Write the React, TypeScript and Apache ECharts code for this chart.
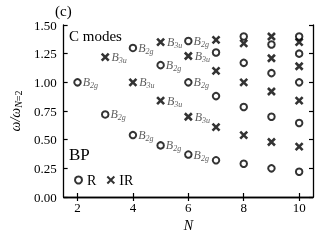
import React, { useEffect, useRef } from 'react';
import * as echarts from 'echarts';

const SERIF = '"Liberation Serif", "DejaVu Serif", serif';

// Raman-active (R) modes: N, omega/omega_{N=2}, symmetry tag
const R_N = [2, 3, 4, 4, 5, 5, 6, 6, 6, 7, 7, 7, 8, 8, 8, 8, 9, 9, 9, 9, 10, 10, 10, 10, 10];
const R_W = [1.0, 0.72, 1.3, 0.54, 1.15, 0.45, 1.36, 1.0, 0.37, 1.26, 0.88, 0.32, 1.4, 1.17, 0.785, 0.29, 1.33, 1.08, 0.7, 0.25, 1.4, 1.25, 1.0, 0.645, 0.22];
const R_TAG = ['2g', '2g', '2g', '2g', '2g', '2g', '2g', '2g', '2g', '', '', '', '', '', '', '', '', '', '', '', '', '', '', '', ''];

// IR-active modes
const IR_N = [3, 4, 5, 5, 6, 6, 7, 7, 7, 8, 8, 8, 9, 9, 9, 9, 10, 10, 10, 10];
const IR_W = [1.22, 1.0, 1.35, 0.84, 1.23, 0.7, 1.37, 1.1, 0.61, 1.34, 1.0, 0.54, 1.4, 1.21, 0.92, 0.48, 1.35, 1.14, 0.84, 0.44];
const IR_TAG = ['3u', '3u', '3u', '3u', '3u', '3u', '', '', '', '', '', '', '', '', '', '', '', '', '', ''];

const X_TICKS = [2, 4, 6, 8, 10];

const CROSS = 'path://M0,0L10,10M10,0L0,10';

function buildData(ns: number[], ws: number[], tags: string[]) {
  return ns.map((n, i) => ({
    value: [n, ws[i]],
    label: tags[i]
      ? { show: true, formatter: `{b|B}{s|${tags[i]}}` }
      : { show: false },
  }));
}

const labelRich = {
  b: { fontFamily: SERIF, fontStyle: 'italic', fontSize: 12, color: '#333', lineHeight: 15 },
  s: { fontFamily: SERIF, fontStyle: 'italic', fontSize: 8, color: '#333', lineHeight: 8, verticalAlign: 'bottom' },
};

export default function App() {
  const ref = useRef<HTMLDivElement>(null);
  useEffect(() => {
    const chart = echarts.init(ref.current!, null, { renderer: 'svg' });
    const axisLine = { show: true, lineStyle: { color: '#000', width: 1.3 } };
    const tickStyle = { inside: true, length: 4, lineStyle: { color: '#000', width: 1.2 } };
    chart.setOption({
      animation: false,
      grid: { left: 57, right: 7, top: 25, bottom: 43 },
      legend: {
        left: 69,
        top: 168,
        itemWidth: 7,
        itemHeight: 7,
        itemGap: 10,
        itemTextGap: 4,
        data: ['R', 'IR'],
        textStyle: { fontFamily: SERIF, fontSize: 14, color: '#000' },
      },
      xAxis: [
        {
          type: 'value',
          min: 1.5,
          max: 10.5,
          name: 'N',
          nameLocation: 'middle',
          nameGap: 17,
          nameTextStyle: { fontFamily: SERIF, fontStyle: 'italic', fontSize: 14, color: '#000' },
          axisLine,
          axisTick: { ...tickStyle, customValues: X_TICKS },
          axisLabel: { customValues: X_TICKS, fontFamily: SERIF, fontSize: 13, color: '#000', margin: 4 },
          splitLine: { show: false },
        },
        {
          type: 'value',
          position: 'top',
          min: 1.5,
          max: 10.5,
          axisLine,
          axisTick: { ...tickStyle, customValues: X_TICKS },
          axisLabel: { show: false, customValues: X_TICKS },
          splitLine: { show: false },
        },
      ],
      yAxis: [
        {
          type: 'value',
          min: 0,
          max: 1.5,
          interval: 0.25,
          name: '{w|ω/ω}{n|N}{s|=2}',
          nameLocation: 'middle',
          nameGap: 29,
          nameRotate: 90,
          nameTextStyle: {
            rich: {
              w: { fontFamily: SERIF, fontStyle: 'italic', fontSize: 14, color: '#000', lineHeight: 16 },
              n: { fontFamily: SERIF, fontStyle: 'italic', fontSize: 10, color: '#000', lineHeight: 10, verticalAlign: 'bottom' },
              s: { fontFamily: SERIF, fontSize: 10, color: '#000', lineHeight: 10, verticalAlign: 'bottom' },
            },
          },
          axisLine,
          axisTick: tickStyle,
          axisLabel: {
            fontFamily: SERIF,
            fontSize: 13,
            color: '#000',
            margin: 7,
            formatter: (v: number) => v.toFixed(2),
          },
          splitLine: { show: false },
        },
        {
          type: 'value',
          position: 'right',
          min: 0,
          max: 1.5,
          interval: 0.25,
          axisLine,
          axisTick: tickStyle,
          axisLabel: { show: false },
          splitLine: { show: false },
        },
      ],
      graphic: [
        { type: 'text', left: 55, top: 3, style: { text: '(c)', fontFamily: SERIF, fontSize: 15, fill: '#000' } },
        { type: 'text', left: 69, top: 28, style: { text: 'C modes', fontFamily: SERIF, fontSize: 15, fill: '#000' } },
        { type: 'text', left: 69, top: 146, style: { text: 'BP', fontFamily: SERIF, fontSize: 17, fill: '#000' } },
      ],
      series: [
        {
          name: 'R',
          type: 'scatter',
          symbol: 'circle',
          symbolSize: 6.5,
          itemStyle: { color: 'rgba(0,0,0,0)', borderColor: '#000', borderWidth: 2 },
          label: { position: 'right', distance: 1, rich: labelRich },
          data: buildData(R_N, R_W, R_TAG),
        },
        {
          name: 'IR',
          type: 'scatter',
          symbol: CROSS,
          symbolSize: 7,
          itemStyle: { color: 'rgba(0,0,0,0)', borderColor: '#000', borderWidth: 2.6 },
          label: { position: 'right', distance: 1.5, rich: labelRich },
          data: buildData(IR_N, IR_W, IR_TAG),
        },
      ],
    });
    return () => chart.dispose();
  }, []);
  return <div ref={ref} style={{ position: 'fixed', left: 0, top: 0, width: 320, height: 240 }} />;
}
